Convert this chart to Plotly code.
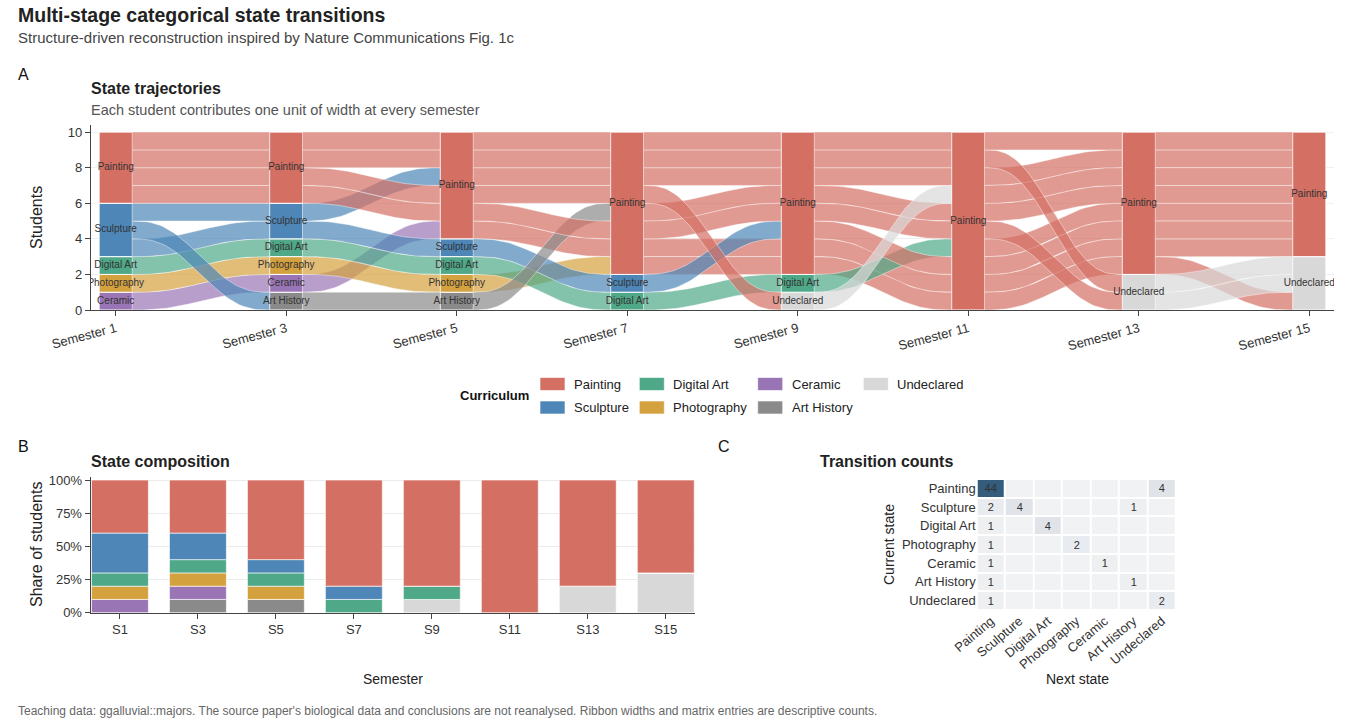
import plotly.graph_objects as go

# canvas size in px (layout helpers below map px -> paper coords)
W, H = 1346, 726

semesters = ["Semester 1", "Semester 3", "Semester 5", "Semester 7",
             "Semester 9", "Semester 11", "Semester 13", "Semester 15"]
sem_short = ["S1", "S3", "S5", "S7", "S9", "S11", "S13", "S15"]

# top-to-bottom order of the strata
curricula = ["Painting", "Sculpture", "Digital Art", "Photography",
             "Ceramic", "Art History", "Undeclared"]
colors = ["#D46F64", "#4D86B7", "#4FA887", "#D4A13F",
          "#9A75B5", "#8A8A8A", "#D8D8D8"]

# one curriculum per semester for each of the 10 students
students = ["A", "B", "C", "D", "E", "F", "G", "H", "I", "J"]
trajectories = {
    "A": ["Ceramic", "Ceramic", "Painting", "Painting", "Painting", "Painting", "Painting", "Painting"],
    "B": ["Photography", "Photography", "Photography", "Painting", "Painting", "Painting", "Painting", "Undeclared"],
    "C": ["Digital Art", "Digital Art", "Digital Art", "Digital Art", "Digital Art", "Painting", "Painting", "Painting"],
    "D": ["Sculpture", "Sculpture", "Sculpture", "Sculpture", "Painting", "Painting", "Painting", "Painting"],
    "E": ["Sculpture", "Art History", "Art History", "Painting", "Painting", "Painting", "Painting", "Painting"],
    "F": ["Sculpture", "Sculpture", "Painting", "Painting", "Painting", "Painting", "Painting", "Painting"],
    "G": ["Painting", "Painting", "Painting", "Painting", "Painting", "Painting", "Undeclared", "Undeclared"],
    "H": ["Painting", "Painting", "Painting", "Painting", "Undeclared", "Painting", "Painting", "Painting"],
    "I": ["Painting", "Painting", "Painting", "Painting", "Painting", "Painting", "Undeclared", "Undeclared"],
    "J": ["Painting", "Painting", "Painting", "Painting", "Painting", "Painting", "Painting", "Painting"],
}
# stacking order of the lodes at each semester (bottom -> top)
stack_order = ["ABCDEFGHIJ", "EABCDFGHIJ", "EBCDAGHFIJ", "CDBAGEHFIJ",
               "HCBADGEFIJ", "BADCGEHFIJ", "GIBADCEHFJ", "BGIADCEHFJ"]

FONT = "Liberation Sans, Arial, sans-serif"


def fx(px):
    return px / W


def fy(py):
    return 1 - py / H


def rgba(hx, a):
    h = hx.lstrip("#")
    return "rgba(%d,%d,%d,%.2f)" % (int(h[0:2], 16), int(h[2:4], 16), int(h[4:6], 16), a)


col = dict(zip(curricula, colors))
n_sem = len(semesters)
n_stu = len(students)

# counts per semester / curriculum
counts = [[sum(1 for s in students if trajectories[s][t] == c) for c in curricula] for t in range(n_sem)]

fig = go.Figure()

# ---------- panel A: alluvial ----------
sw = 0.195  # stratum width (x units)
ts = [k / 40 for k in range(41)]
smooth = [6 * t ** 5 - 15 * t ** 4 + 10 * t ** 3 for t in ts]

for t in range(n_sem - 1):
    for s in students:
        y0 = stack_order[t].index(s)
        y1 = stack_order[t + 1].index(s)
        x0, x1 = t + sw / 2, t + 1 - sw / 2
        xs = [x0 + (x1 - x0) * u for u in ts]
        top = [y0 + 1 + (y1 - y0) * v for v in smooth]
        bot = [y0 + (y1 - y0) * v for v in smooth]
        fig.add_trace(go.Scatter(
            x=xs + xs[::-1], y=top + bot[::-1], mode="lines", fill="toself",
            fillcolor=rgba(col[trajectories[s][t]], 0.7),
            line=dict(color="rgba(255,255,255,0.7)", width=0.6),
            hoverinfo="skip", showlegend=False, xaxis="x", yaxis="y"))

# strata boxes
lab_x, lab_y, lab_t = [], [], []
for ci in range(len(curricula) - 1, -1, -1):
    c = curricula[ci]
    xs, ys, bases = [], [], []
    for t in range(n_sem):
        n = counts[t][ci]
        if n == 0:
            continue
        base = sum(counts[t][cj] for cj in range(ci + 1, len(curricula)))
        xs.append(t)
        ys.append(n)
        bases.append(base)
        lab_x.append(t)
        lab_y.append(base + n / 2)
        lab_t.append(c)
    fig.add_trace(go.Bar(x=xs, y=ys, base=bases, width=sw, marker=dict(color=col[c], line=dict(color="white", width=1)),
                         hoverinfo="skip", showlegend=False, xaxis="x", yaxis="y"))

fig.add_trace(go.Scatter(x=lab_x, y=lab_y, text=lab_t, mode="text",
                         textfont=dict(size=10, color="#333333", family=FONT),
                         hoverinfo="skip", showlegend=False, xaxis="x", yaxis="y"))

# ---------- panel B: composition ----------
for ci in range(len(curricula) - 1, -1, -1):
    c = curricula[ci]
    share = [counts[t][ci] / n_stu for t in range(n_sem)]
    base = [sum(counts[t][cj] for cj in range(ci + 1, len(curricula))) / n_stu for t in range(n_sem)]
    fig.add_trace(go.Bar(x=list(range(n_sem)), y=share, base=base, width=0.73,
                         marker=dict(color=col[c], line=dict(color="rgba(255,255,255,0.8)", width=0.8)),
                         hoverinfo="skip", showlegend=False, xaxis="x2", yaxis="y2"))

# ---------- panel C: transition matrix ----------
idx = {c: k for k, c in enumerate(curricula)}
trans = [[0] * len(curricula) for _ in curricula]
for s in students:
    tr = trajectories[s]
    for a, b in zip(tr[:-1], tr[1:]):
        trans[idx[a]][idx[b]] += 1
trans_txt = [[str(v) if v else "" for v in row] for row in trans]

fig.add_trace(go.Heatmap(z=trans, x=curricula, y=curricula, text=trans_txt, texttemplate="%{text}",
                         textfont=dict(size=11, color="#333333", family=FONT),
                         colorscale=[[0, "#F1F2F4"], [1, "#345C7C"]], zmin=0, zmax=44,
                         showscale=False, xgap=2, ygap=2, hoverinfo="skip", xaxis="x3", yaxis="y3"))

# ---------- legend (drawn by hand, 2 rows, column-major) ----------
shapes = []
annotations = []
leg_cols = [540, 639.3, 757.7, 863.3]
leg_rows = [384, 407.5]
for i, c in enumerate(curricula):
    xl = leg_cols[i // 2]
    yc = leg_rows[i % 2]
    shapes.append(dict(type="rect", xref="paper", yref="paper", x0=fx(xl), x1=fx(xl + 25),
                       y0=fy(yc + 6.5), y1=fy(yc - 6.5), fillcolor=col[c],
                       line=dict(color="rgba(255,255,255,0.6)", width=1), layer="above"))
    annotations.append(dict(text=c, x=fx(xl + 32), y=fy(yc), xref="paper", yref="paper",
                            xanchor="left", yanchor="middle", showarrow=False,
                            font=dict(size=13, color="#222222", family=FONT)))
annotations.append(dict(text="<b>Curriculum</b>", x=fx(458), y=fy(396), xref="paper", yref="paper",
                        xanchor="left", yanchor="middle", showarrow=False,
                        font=dict(size=13, color="#111111", family=FONT)))


def txt(s, x, y, size, color="#222222", anchor="left", angle=0):
    annotations.append(dict(text=s, x=fx(x), y=fy(y), xref="paper", yref="paper", xanchor=anchor,
                            yanchor="middle", showarrow=False, textangle=angle,
                            font=dict(size=size, color=color, family=FONT)))


txt("<b>Multi-stage categorical state transitions</b>", 16, 15, 19.5, "#222222")
txt("Structure-driven reconstruction inspired by Nature Communications Fig. 1c", 16, 38, 15, "#444444")
txt("A", 16, 75, 16, "#111111")
txt("<b>State trajectories</b>", 89, 89, 16, "#222222")
txt("Each student contributes one unit of width at every semester", 89, 110, 14.5, "#555555")
txt("B", 16, 447, 16, "#111111")
txt("<b>State composition</b>", 89, 461, 16, "#222222")
txt("C", 716, 447, 16, "#111111")
txt("<b>Transition counts</b>", 818, 461, 16, "#222222")
txt("Students", 36, 218, 16, "#222222", "center", -90)
txt("Share of students", 36, 545, 16, "#222222", "center", -90)
txt("Semester", 393, 679, 14, "#222222", "center")
txt("Current state", 889, 545, 14, "#222222", "center", -90)
txt("Next state", 1077, 679, 14, "#222222", "center")
txt("Teaching data: ggalluvial::majors. The source paper's biological data and conclusions are not reanalysed. "
    "Ribbon widths and matrix entries are descriptive counts.", 16, 711, 12, "#666666")

tickfont = dict(size=13, color="#333333", family=FONT)
axline = dict(showline=True, linecolor="#444444", linewidth=1.3, ticks="outside", ticklen=5,
              tickcolor="#444444", zeroline=False, tickfont=tickfont, automargin=False)

fig.update_layout(
    template="none",
    width=W, height=H, margin=dict(l=0, r=0, t=0, b=0, pad=0),
    paper_bgcolor="white", plot_bgcolor="white", barmode="overlay",
    font=dict(family=FONT, color="#222222"),
    showlegend=False, shapes=shapes, annotations=annotations,
    xaxis=dict(domain=[fx(91), fx(1334)], range=[-0.145, 7.145], tickvals=list(range(n_sem)),
               ticktext=semesters, tickangle=-15, showgrid=False, anchor="y", **axline),
    yaxis=dict(domain=[fy(310), fy(125)], range=[0, 10.4], tickvals=[0, 2, 4, 6, 8, 10],
               showgrid=True, gridcolor="#EFEFEF", anchor="x", **axline),
    xaxis2=dict(domain=[fx(90.7), fx(695)], range=[-0.375, 7.375], tickvals=list(range(n_sem)),
                ticktext=sem_short, showgrid=False, anchor="y2", **axline),
    yaxis2=dict(domain=[fy(612.7), fy(476.7)], range=[0, 1.025], tickvals=[0, 0.25, 0.5, 0.75, 1],
                ticktext=["0%", "25%", "50%", "75%", "100%"], showgrid=True, gridcolor="#EBEBEB",
                anchor="x2", **axline),
    xaxis3=dict(domain=[fx(976.7), fx(1176)], range=[-0.5, 6.5], tickangle=-40, showgrid=False,
                zeroline=False, showline=False, ticks="", tickfont=tickfont, anchor="y3", automargin=False),
    yaxis3=dict(domain=[fy(610), fy(479)], range=[6.5, -0.5], showgrid=False, zeroline=False,
                showline=False, ticks="", tickfont=tickfont, anchor="x3", automargin=False),
)

fig.write_html("out.html", config={"displayModeBar": False},
               post_script="document.body.style.margin='0';")
